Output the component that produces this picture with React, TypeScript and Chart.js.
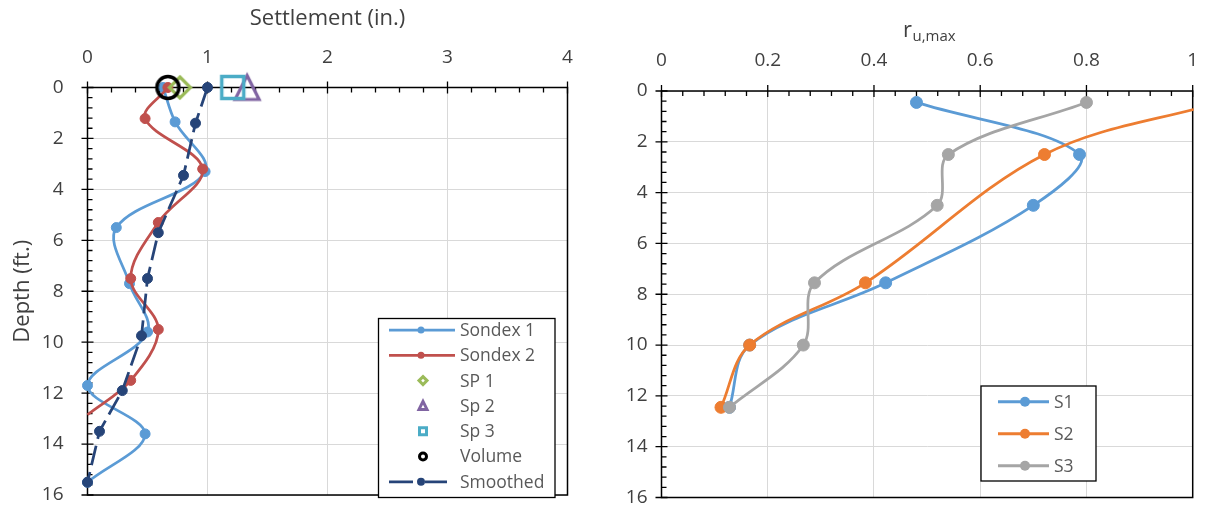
import React, { useEffect, useRef } from 'react';
import { Chart, registerables } from 'chart.js';

Chart.register(...registerables);

const FONT = '"Open Sans", "Noto Sans", "DejaVu Sans", sans-serif';

// ---------- Left chart: settlement vs depth ----------
const settlementTicks = [0, 1, 2, 3, 4];
const depthTicks = [0, 2, 4, 6, 8, 10, 12, 14, 16];

const sondex1Settlement = [0.63, 0.73, 0.98, 0.24, 0.35, 0.5, 0.0, 0.48, 0.0];
const sondex1Depth = [0, 1.35, 3.3, 5.5, 7.7, 9.6, 11.7, 13.6, 15.5];

const sondex2Settlement = [0.67, 0.48, 0.96, 0.59, 0.36, 0.59, 0.36, 0.0];
const sondex2Depth = [0, 1.22, 3.2, 5.3, 7.5, 9.5, 11.5, 12.85];

const smoothedSettlement = [1.0, 0.9, 0.8, 0.59, 0.5, 0.45, 0.29, 0.1, 0.0];
const smoothedDepth = [0, 1.4, 3.45, 5.7, 7.5, 9.75, 11.9, 13.5, 15.5];

const sp1Settlement = [0.77];
const sp2Settlement = [1.33];
const sp3Settlement = [1.21];
const volumeSettlement = [0.67];
const surfaceDepth = [0];

// ---------- Right chart: r_u,max vs depth ----------
const ruTicks = [0, 0.2, 0.4, 0.6, 0.8, 1];
const ruDepth = [0.45, 2.5, 4.5, 7.55, 10.0, 12.45];
const s1Ru = [0.48, 0.787, 0.7, 0.422, 0.166, 0.128];
const s2Depth = [0.45, 2.5, 7.55, 10.0, 12.45];
const s2Ru = [1.05, 0.721, 0.384, 0.166, 0.112];
const s3Ru = [0.8, 0.54, 0.519, 0.288, 0.267, 0.128];

const C_S1 = '#5B9BD5';
const C_SONDEX2 = '#C0504D';
const C_SMOOTH = '#264478';
const C_SP1 = '#9BBB59';
const C_SP2 = '#8064A2';
const C_SP3 = '#4BACC6';
const C_ORANGE = '#ED7D31';
const C_GRAY = '#A5A5A5';
const TEXT = '#404040';
const LEGEND_TEXT = '#595959';

const pts = (xs: number[], ys: number[]) => xs.map((x, i) => ({ x, y: ys[i] }));

function makeMarker(shape: string, size: number, color: string, lw: number) {
  const c = document.createElement('canvas');
  const dim = Math.ceil(size + lw * 3 + 4);
  c.width = dim;
  c.height = dim;
  const g = c.getContext('2d') as CanvasRenderingContext2D;
  const cx = dim / 2;
  const cy = dim / 2;
  const h = size / 2;
  g.strokeStyle = color;
  g.lineWidth = lw;
  g.lineJoin = 'miter';
  g.beginPath();
  if (shape === 'circle') {
    g.arc(cx, cy, h, 0, Math.PI * 2);
  } else if (shape === 'diamond') {
    g.moveTo(cx, cy - h);
    g.lineTo(cx + h, cy);
    g.lineTo(cx, cy + h);
    g.lineTo(cx - h, cy);
    g.closePath();
  } else if (shape === 'square') {
    g.rect(cx - h, cy - h, size, size);
  } else {
    g.moveTo(cx, cy - h);
    g.lineTo(cx + h, cy + h);
    g.lineTo(cx - h, cy + h);
    g.closePath();
  }
  g.stroke();
  return c;
}

function smallMarker(ctx: CanvasRenderingContext2D, shape: string, x: number, y: number, color: string) {
  ctx.save();
  ctx.strokeStyle = color;
  ctx.lineWidth = 3;
  ctx.beginPath();
  const h = 3.5;
  if (shape === 'circle') ctx.arc(x, y, h, 0, Math.PI * 2);
  else if (shape === 'diamond') {
    ctx.moveTo(x, y - h - 0.5);
    ctx.lineTo(x + h + 0.5, y);
    ctx.lineTo(x, y + h + 0.5);
    ctx.lineTo(x - h - 0.5, y);
    ctx.closePath();
  } else if (shape === 'square') ctx.rect(x - h, y - h, 2 * h, 2 * h);
  else {
    ctx.moveTo(x, y - h - 1);
    ctx.lineTo(x + h + 0.5, y + h);
    ctx.lineTo(x - h - 0.5, y + h);
    ctx.closePath();
  }
  ctx.stroke();
  ctx.restore();
}

function makeAxesPlugin(xMinor: number, yMinor: number) {
  return {
    id: 'axesFrame',
    beforeDatasetsDraw(chart: any) {
      const { ctx, chartArea: a, scales } = chart;
      const xs = scales.x;
      const ys = scales.y;
      ctx.save();
      ctx.strokeStyle = '#000';
      ctx.lineWidth = 1.5;
      ctx.beginPath();
      ctx.rect(a.left, a.top, a.right - a.left, a.bottom - a.top);
      ctx.stroke();
      ctx.lineWidth = 1.3;
      ctx.beginPath();
      const nx = Math.round((xs.max - xs.min) / xMinor);
      for (let i = 0; i <= nx; i++) {
        const px = xs.getPixelForValue(xs.min + i * xMinor);
        const major = i % 5 === 0;
        ctx.moveTo(px, a.top - (major ? 6 : 0));
        ctx.lineTo(px, a.top + (major ? 6 : 5));
      }
      const ny = Math.round((ys.max - ys.min) / yMinor);
      for (let i = 0; i <= ny; i++) {
        const py = ys.getPixelForValue(ys.min + i * yMinor);
        const major = i % 5 === 0;
        ctx.moveTo(a.left - (major ? 6 : 0), py);
        ctx.lineTo(a.left + (major ? 6 : 5), py);
      }
      ctx.stroke();
      ctx.restore();
    },
  };
}

const leftDecor = {
  id: 'leftDecor',
  afterDraw(chart: any) {
    const { ctx, chartArea: a } = chart;
    ctx.save();
    ctx.fillStyle = TEXT;
    ctx.font = `22px ${FONT}`;
    ctx.textAlign = 'center';
    ctx.textBaseline = 'middle';
    ctx.fillText('Settlement (in.)', (a.left + a.right) / 2, 19);
    ctx.save();
    ctx.translate(23, (a.top + a.bottom) / 2);
    ctx.rotate(-Math.PI / 2);
    ctx.fillText('Depth (ft.)', 0, 0);
    ctx.restore();

    // legend
    const bx = 378.5, by = 318.5, bw = 176.5, bh = 179;
    ctx.fillStyle = '#fff';
    ctx.fillRect(bx, by, bw, bh);
    ctx.strokeStyle = '#000';
    ctx.lineWidth = 1.3;
    ctx.strokeRect(bx, by, bw, bh);
    const rows = [
      { label: 'Sondex 1', kind: 'line', color: C_S1 },
      { label: 'Sondex 2', kind: 'line', color: C_SONDEX2 },
      { label: 'SP 1', kind: 'diamond', color: C_SP1 },
      { label: 'Sp 2', kind: 'triangle', color: C_SP2 },
      { label: 'Sp 3', kind: 'square', color: C_SP3 },
      { label: 'Volume', kind: 'circle', color: '#000' },
      { label: 'Smoothed', kind: 'dash', color: C_SMOOTH },
    ];
    ctx.font = `17.5px ${FONT}`;
    ctx.textAlign = 'left';
    rows.forEach((r, i) => {
      const y = 330 + i * 25.3;
      if (r.kind === 'line') {
        ctx.strokeStyle = r.color;
        ctx.lineWidth = 2.75;
        ctx.beginPath();
        ctx.moveTo(389, y);
        ctx.lineTo(455, y);
        ctx.stroke();
        ctx.fillStyle = r.color;
        ctx.beginPath();
        ctx.arc(421, y, 3.5, 0, Math.PI * 2);
        ctx.fill();
      } else if (r.kind === 'dash') {
        ctx.strokeStyle = r.color;
        ctx.lineWidth = 2.75;
        ctx.beginPath();
        ctx.moveTo(389, y);
        ctx.lineTo(413, y);
        ctx.moveTo(425, y);
        ctx.lineTo(447, y);
        ctx.stroke();
        ctx.fillStyle = r.color;
        ctx.beginPath();
        ctx.arc(421, y, 4, 0, Math.PI * 2);
        ctx.fill();
      } else {
        smallMarker(ctx, r.kind, 423, y, r.color);
      }
      ctx.fillStyle = LEGEND_TEXT;
      ctx.fillText(r.label, 460, y + 1);
    });
    ctx.restore();
  },
};

const rightDecor = {
  id: 'rightDecor',
  afterDraw(chart: any) {
    const { ctx } = chart;
    ctx.save();
    ctx.fillStyle = TEXT;
    ctx.textBaseline = 'alphabetic';
    ctx.textAlign = 'left';
    ctx.font = `22px ${FONT}`;
    ctx.fillText('r', 303, 37);
    const rw = ctx.measureText('r').width;
    ctx.font = `15px ${FONT}`;
    ctx.fillText('u,max', 303 + rw + 0.5, 41);

    const bx = 381, by = 386, bw = 115, bh = 95;
    ctx.fillStyle = '#fff';
    ctx.fillRect(bx, by, bw, bh);
    ctx.strokeStyle = '#000';
    ctx.lineWidth = 1.3;
    ctx.strokeRect(bx, by, bw, bh);
    const rows = [
      { label: 'S1', color: C_S1 },
      { label: 'S2', color: C_ORANGE },
      { label: 'S3', color: C_GRAY },
    ];
    ctx.font = `17.5px ${FONT}`;
    ctx.textBaseline = 'middle';
    rows.forEach((r, i) => {
      const y = 401.7 + i * 32;
      ctx.strokeStyle = r.color;
      ctx.lineWidth = 3;
      ctx.beginPath();
      ctx.moveTo(398, y);
      ctx.lineTo(449, y);
      ctx.stroke();
      ctx.fillStyle = r.color;
      ctx.beginPath();
      ctx.arc(425, y, 5, 0, Math.PI * 2);
      ctx.fill();
      ctx.fillStyle = LEGEND_TEXT;
      ctx.fillText(r.label, 454, y + 1);
    });
    ctx.restore();
  },
};

const tickFont = { family: FONT, size: 19 };

function fmt(v: number) {
  return String(Math.round(v * 100) / 100);
}

function zeroPad(s: any) {
  s.paddingTop = 0;
  s.paddingBottom = 0;
  s.paddingLeft = 0;
  s.paddingRight = 0;
}

export default function App() {
  const leftRef = useRef<HTMLCanvasElement | null>(null);
  const rightRef = useRef<HTMLCanvasElement | null>(null);

  useEffect(() => {
    const circleM = makeMarker('circle', 22, '#000', 3.5);
    const diamondM = makeMarker('diamond', 21, C_SP1, 3.2);
    const squareM = makeMarker('square', 22, C_SP3, 3.5);
    const triM = makeMarker('triangle', 24, C_SP2, 3.2);

    const lineDs = (label: string, data: any, color: string, order: number, extra: any = {}) => ({
      label,
      data,
      showLine: true,
      borderColor: color,
      backgroundColor: color,
      pointBackgroundColor: color,
      pointBorderColor: color,
      borderWidth: 2.75,
      pointRadius: 5,
      pointBorderWidth: 1,
      tension: 0.35,
      order,
      clip: false,
      ...extra,
    });

    const markerDs = (label: string, xs: number[], img: any, order: number) => ({
      label,
      data: pts(xs, surfaceDepth),
      showLine: false,
      pointStyle: img,
      pointRadius: 12,
      order,
      clip: false,
    });

    const left = new Chart(leftRef.current as HTMLCanvasElement, {
      type: 'scatter',
      data: {
        datasets: [
          lineDs('Sondex 1', pts(sondex1Settlement, sondex1Depth), C_S1, 7),
          lineDs('Sondex 2', pts(sondex2Settlement, sondex2Depth), C_SONDEX2, 6, {
            pointRadius: sondex2Depth.map((_, i) => (i === sondex2Depth.length - 1 ? 0 : 5)),
          }),
          markerDs('SP 1', sp1Settlement, diamondM, 5),
          markerDs('Sp 2', sp2Settlement, triM, 4),
          markerDs('Sp 3', sp3Settlement, squareM, 3),
          markerDs('Volume', volumeSettlement, circleM, 2),
          lineDs('Smoothed', pts(smoothedSettlement, smoothedDepth), C_SMOOTH, 1, {
            tension: 0,
            borderDash: [20, 7],
          }),
        ],
      } as any,
      options: {
        animation: false,
        responsive: false,
        maintainAspectRatio: false,
        layout: { padding: { left: 0, top: 0, right: 32.5, bottom: 10 } },
        plugins: { legend: { display: false }, tooltip: { enabled: false } },
        scales: {
          x: {
            type: 'linear',
            position: 'top',
            min: 0,
            max: 4,
            afterBuildTicks: (s: any) => {
              s.ticks = settlementTicks.map((v) => ({ value: v }));
            },
            afterFit: (s: any) => {
              s.height = 87.5;
              zeroPad(s);
            },
            ticks: { padding: 19, color: TEXT, font: tickFont, callback: (v: any) => fmt(v) },
            grid: { color: '#D9D9D9', lineWidth: 1, drawTicks: false },
            border: { display: false },
          },
          y: {
            type: 'linear',
            reverse: true,
            min: 0,
            max: 16,
            afterBuildTicks: (s: any) => {
              s.ticks = depthTicks.map((v) => ({ value: v }));
            },
            afterFit: (s: any) => {
              s.width = 87.5;
              zeroPad(s);
            },
            ticks: { padding: 24, color: TEXT, font: tickFont, callback: (v: any) => fmt(v) },
            grid: { color: '#D9D9D9', lineWidth: 1, drawTicks: false },
            border: { display: false },
          },
        },
      } as any,
      plugins: [makeAxesPlugin(0.2, 0.4), leftDecor],
    });

    const rDs = (label: string, data: any, color: string, order: number, clip: any) => ({
      label,
      data,
      showLine: true,
      borderColor: color,
      backgroundColor: color,
      pointBackgroundColor: color,
      pointBorderColor: color,
      borderWidth: 2.75,
      pointRadius: 6,
      pointBorderWidth: 1,
      tension: 0.35,
      order,
      clip,
    });

    const right = new Chart(rightRef.current as HTMLCanvasElement, {
      type: 'scatter',
      data: {
        datasets: [
          rDs('S1', pts(s1Ru, ruDepth), C_S1, 3, false),
          rDs('S2', pts(s2Ru, s2Depth), C_ORANGE, 2, 1),
          rDs('S3', pts(s3Ru, ruDepth), C_GRAY, 1, false),
        ],
      } as any,
      options: {
        animation: false,
        responsive: false,
        maintainAspectRatio: false,
        layout: { padding: { left: 0, top: 0, right: 12.3, bottom: 10.5 } },
        plugins: { legend: { display: false }, tooltip: { enabled: false } },
        scales: {
          x: {
            type: 'linear',
            position: 'top',
            min: 0,
            max: 1,
            afterBuildTicks: (s: any) => {
              s.ticks = ruTicks.map((v) => ({ value: v }));
            },
            afterFit: (s: any) => {
              s.height = 91;
              zeroPad(s);
            },
            ticks: { padding: 19, color: TEXT, font: tickFont, callback: (v: any) => fmt(v) },
            grid: { color: '#D9D9D9', lineWidth: 1, drawTicks: false },
            border: { display: false },
          },
          y: {
            type: 'linear',
            reverse: true,
            min: 0,
            max: 16,
            afterBuildTicks: (s: any) => {
              s.ticks = depthTicks.map((v) => ({ value: v }));
            },
            afterFit: (s: any) => {
              s.width = 61.5;
              zeroPad(s);
            },
            ticks: { padding: 14, color: TEXT, font: tickFont, callback: (v: any) => fmt(v) },
            grid: { color: '#D9D9D9', lineWidth: 1, drawTicks: false },
            border: { display: false },
          },
        },
      } as any,
      plugins: [makeAxesPlugin(0.04, 0.4), rightDecor],
    });

    return () => {
      left.destroy();
      right.destroy();
    };
  }, []);

  return (
    <div style={{ position: 'fixed', left: 0, top: 0, width: 1205, height: 508, background: '#fff' }}>
      <canvas
        ref={leftRef}
        width={600}
        height={508}
        style={{ position: 'absolute', left: 0, top: 0, width: 600, height: 508 }}
      />
      <canvas
        ref={rightRef}
        width={605}
        height={508}
        style={{ position: 'absolute', left: 600, top: 0, width: 605, height: 508 }}
      />
    </div>
  );
}
